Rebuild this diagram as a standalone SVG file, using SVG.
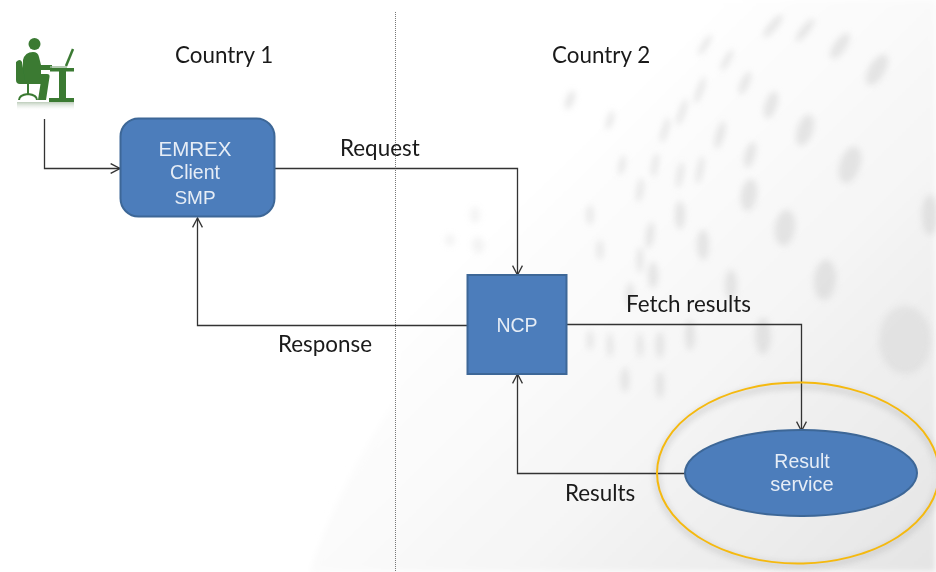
<svg xmlns="http://www.w3.org/2000/svg" width="936" height="572" viewBox="0 0 936 572">
<style>
.lbl{font-family:"Lato","Liberation Sans",sans-serif;font-size:22.400px;fill:#1a1a1a}
.nt{font-family:"Liberation Sans",Arial,sans-serif;fill:#e6edf6;text-anchor:middle}
.shape{fill:#4c7dbb;stroke:#3d6797;stroke-width:2}
.conn{fill:none;stroke:#333;stroke-width:1.3;marker-end:url(#arr)}
.dot{fill:#cfcfcf}
.g{fill:#3a7a33}
</style>
<defs>
<marker id="arr" viewBox="0 0 10 10" refX="9.500" refY="5" markerWidth="11" markerHeight="11" markerUnits="userSpaceOnUse" orient="auto"><path d="M1 0.500L9.500 5L1 9.500" fill="none" stroke="#333" stroke-width="1.200"/></marker>
<linearGradient id="bg" x1="0.300" y1="0.350" x2="1" y2="1"><stop offset="0" stop-color="#fff"/><stop offset="0.450" stop-color="#f6f6f6"/><stop offset="1" stop-color="#e4e4e4"/></linearGradient>
<filter id="blur" x="-80%" y="-80%" width="260%" height="260%"><feGaussianBlur stdDeviation="3"/></filter>
<filter id="sh" x="-10%" y="-10%" width="120%" height="125%"><feGaussianBlur stdDeviation="3"/></filter>
<filter id="soft" x="-5%" y="-5%" width="110%" height="110%"><feGaussianBlur stdDeviation="0.400"/></filter>
<linearGradient id="refl" x1="0" y1="0" x2="0" y2="1"><stop offset="0" stop-color="#7a9a76" stop-opacity=".5"/><stop offset="1" stop-color="#fff" stop-opacity="0"/></linearGradient>
</defs>
<rect width="936" height="572" fill="#fff"/>
<path d="M396 0H936V572H310Q340 480 396 400Z" fill="url(#bg)" filter="url(#sh)"/>
<g filter="url(#blur)" opacity=".5">
<ellipse class="dot" cx="840" cy="46" rx="6" ry="15" transform="rotate(35 840 46)"/>
<ellipse class="dot" cx="877" cy="70" rx="8" ry="17" transform="rotate(30 877 70)"/>
<ellipse class="dot" cx="805" cy="30" rx="4" ry="14" transform="rotate(38 805 30)"/>
<ellipse class="dot" cx="773" cy="26" rx="4" ry="14" transform="rotate(40 773 26)"/>
<ellipse class="dot" cx="771" cy="105" rx="6" ry="14" transform="rotate(18 771 105)"/>
<ellipse class="dot" cx="805" cy="130" rx="8" ry="16" transform="rotate(18 805 130)"/>
<ellipse class="dot" cx="850" cy="165" rx="10" ry="19" transform="rotate(18 850 165)"/>
<ellipse class="dot" cx="745" cy="83" rx="4" ry="12" transform="rotate(25 745 83)"/>
<ellipse class="dot" cx="727" cy="60" rx="3" ry="12" transform="rotate(30 727 60)"/>
<ellipse class="dot" cx="705" cy="45" rx="3" ry="12" transform="rotate(32 705 45)"/>
<ellipse class="dot" cx="700" cy="90" rx="3" ry="14" transform="rotate(20 700 90)"/>
<ellipse class="dot" cx="720" cy="135" rx="4" ry="14" transform="rotate(15 720 135)"/>
<ellipse class="dot" cx="750" cy="155" rx="5" ry="13" transform="rotate(15 750 155)"/>
<ellipse class="dot" cx="749" cy="195" rx="8" ry="16" transform="rotate(8 749 195)"/>
<ellipse class="dot" cx="785" cy="228" rx="10" ry="18" transform="rotate(8 785 228)"/>
<ellipse class="dot" cx="825" cy="280" rx="11" ry="20" transform="rotate(5 825 280)"/>
<ellipse class="dot" cx="682" cy="112" rx="3" ry="14" transform="rotate(18 682 112)"/>
<ellipse class="dot" cx="665" cy="130" rx="3" ry="13" transform="rotate(15 665 130)"/>
<ellipse class="dot" cx="700" cy="170" rx="3" ry="14" transform="rotate(10 700 170)"/>
<ellipse class="dot" cx="680" cy="175" rx="3" ry="13" transform="rotate(10 680 175)"/>
<ellipse class="dot" cx="655" cy="165" rx="3" ry="12" transform="rotate(10 655 165)"/>
<ellipse class="dot" cx="640" cy="190" rx="3" ry="12" transform="rotate(8 640 190)"/>
<ellipse class="dot" cx="570" cy="100" rx="4" ry="10" transform="rotate(20 570 100)"/>
<ellipse class="dot" cx="610" cy="120" rx="3" ry="10" transform="rotate(18 610 120)"/>
<ellipse class="dot" cx="622" cy="165" rx="3" ry="10" transform="rotate(12 622 165)"/>
<ellipse class="dot" cx="680" cy="215" rx="5" ry="14"/>
<ellipse class="dot" cx="640" cy="260" rx="3" ry="13"/>
<ellipse class="dot" cx="650" cy="235" rx="4" ry="13" transform="rotate(8 650 235)"/>
<ellipse class="dot" cx="653" cy="275" rx="5" ry="13"/>
<ellipse class="dot" cx="703" cy="245" rx="6" ry="15"/>
<ellipse class="dot" cx="731" cy="285" rx="6" ry="15"/>
<ellipse class="dot" cx="763" cy="336" rx="8" ry="18"/>
<ellipse class="dot" cx="630" cy="295" rx="4" ry="12"/>
<ellipse class="dot" cx="590" cy="215" rx="3" ry="10"/>
<ellipse class="dot" cx="600" cy="250" rx="3" ry="10"/>
<ellipse class="dot" cx="475" cy="215" rx="5" ry="8" opacity=".5"/>
<ellipse class="dot" cx="478" cy="245" rx="6" ry="8" opacity=".5"/>
<ellipse class="dot" cx="450" cy="240" rx="5" ry="6" opacity=".5"/>
<ellipse class="dot" cx="590" cy="340" rx="3" ry="10"/>
<ellipse class="dot" cx="610" cy="345" rx="3" ry="12"/>
<ellipse class="dot" cx="640" cy="345" rx="3" ry="12"/>
<ellipse class="dot" cx="660" cy="345" rx="4" ry="13"/>
<ellipse class="dot" cx="690" cy="335" rx="5" ry="15"/>
<ellipse class="dot" cx="625" cy="380" rx="4" ry="12"/>
<ellipse class="dot" cx="660" cy="385" rx="4" ry="13"/>
<ellipse class="dot" cx="905" cy="340" rx="26" ry="34" opacity=".8"/>
<ellipse class="dot" cx="930" cy="215" rx="8" ry="20"/>
</g>
<line x1="395.500" y1="12" x2="395.500" y2="572" stroke="#777" stroke-width="1" stroke-dasharray="1 1"/>
<ellipse cx="798" cy="476" rx="141" ry="90" fill="none" stroke="#999" stroke-width="5" opacity=".35" filter="url(#sh)"/>
<g id="connectors">
<path class="conn" d="M44.500 119V168.500H120"/>
<path class="conn" d="M275 168.500H517.500V275"/>
<path class="conn" d="M467 325.500H197.500V218"/>
<path class="conn" d="M567 324.500H801.500V431"/>
<path class="conn" d="M685 473.500H517.500V374"/>
</g>
<g id="person" filter="url(#soft)">
<circle class="g" cx="34.500" cy="44" r="6"/>
<path class="g" d="M23 60Q25 52 33 52Q38 52 39 57L41 65H52V70H41V74H47Q50 74 49.500 77L46 100H38L40.500 84H27Q23 82 23 74Z"/>
<path class="g" d="M16 62Q20 58 22 62L25 80H35V84H20Q16 84 16 80Z"/>
<path d="M28 84V94M19 100Q19 95 28 94Q37 95 37 100" fill="none" stroke="#3a7a33" stroke-width="2"/>
<rect class="g" x="50" y="68" width="24" height="3.500"/>
<rect class="g" x="59" y="71" width="7" height="27"/>
<rect class="g" x="49" y="98" width="25" height="4"/>
<path d="M66 66L73 49" stroke="#3a7a33" stroke-width="2.500" fill="none"/>
<path d="M50 67H67" stroke="#9db89a" stroke-width="1.500" fill="none"/>
<rect x="17" y="102" width="57" height="9" fill="url(#refl)"/>
</g>
<g id="emrex">
<rect class="shape" x="120.500" y="118.500" width="154" height="98" rx="18"/>
<text class="nt" x="195" y="156" font-size="20.500">EMREX</text>
<text class="nt" x="195" y="179" font-size="19.500">Client</text>
<text class="nt" x="195" y="204" font-size="19">SMP</text>
</g>
<g id="ncp">
<rect class="shape" x="467.500" y="275" width="99" height="99"/>
<text class="nt" x="517" y="332" font-size="19.500">NCP</text>
</g>
<g id="result">
<ellipse class="shape" cx="801" cy="473" rx="116" ry="43"/>
<text class="nt" x="802" y="468" font-size="19.500">Result</text>
<text class="nt" x="802" y="491" font-size="20">service</text>
</g>
<ellipse id="highlight" cx="798" cy="473" rx="141" ry="90.500" fill="none" stroke="#f5b90f" stroke-width="2"/>
<g id="labels">
<text class="lbl" x="175" y="63">Country 1</text>
<text class="lbl" x="552" y="63">Country 2</text>
<text class="lbl" x="340" y="156">Request</text>
<text class="lbl" x="278" y="352">Response</text>
<text class="lbl" x="626" y="312">Fetch results</text>
<text class="lbl" x="565" y="501">Results</text>
</g>
</svg>
